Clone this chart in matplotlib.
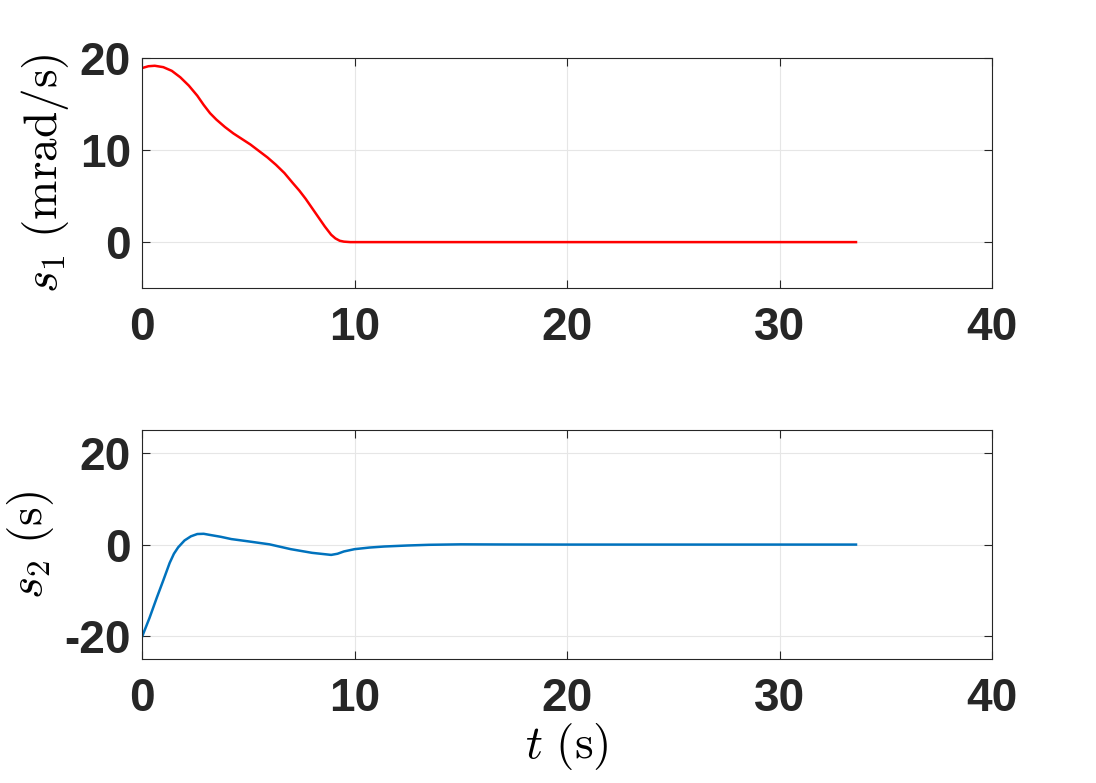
import matplotlib
matplotlib.use("Agg")
import matplotlib.pyplot as plt

# ---------------------------------------------------------------------------
# Data
# ---------------------------------------------------------------------------

t1 = [0.0, 0.3, 0.6, 1.0, 1.4, 1.8, 2.2, 2.6, 2.9, 3.2, 3.5, 3.9, 4.3, 4.7,
      5.1, 5.5, 5.9, 6.3, 6.7, 7.1, 7.4, 7.7, 8.0, 8.3, 8.6, 8.9, 9.1, 9.3,
      9.5, 9.8, 33.6]
s1 = [18.9, 19.1, 19.15, 19.0, 18.6, 17.9, 17.0, 15.9, 14.9, 14.0, 13.3, 12.5,
      11.8, 11.2, 10.6, 9.9, 9.2, 8.4, 7.5, 6.4, 5.6, 4.7, 3.7, 2.7, 1.7, 0.8,
      0.4, 0.15, 0.05, 0.0, 0.0]

t2 = [0.0, 0.35, 0.7, 1.0, 1.3, 1.5, 1.7, 2.0, 2.3, 2.6, 2.9, 3.2, 3.7, 4.2,
      5.0, 6.0, 7.0, 8.0, 8.9, 9.2, 9.5, 10.0, 10.7, 11.4, 12.5, 13.5, 15.0,
      17.0, 20.0, 33.6]
s2 = [-20.1, -16.0, -11.5, -7.8, -4.0, -2.0, -0.6, 0.9, 1.8, 2.3, 2.35, 2.1,
      1.7, 1.2, 0.7, 0.05, -1.0, -1.8, -2.25, -2.0, -1.5, -1.0, -0.65, -0.42,
      -0.2, -0.05, 0.05, 0.02, 0.0, 0.0]

X_TICKS = [0, 10, 20, 30, 40]
Y1_TICKS = [0, 10, 20]
Y2_TICKS = [-20, 0, 20]

# ---------------------------------------------------------------------------
# Plot
# ---------------------------------------------------------------------------

plt.rcParams["mathtext.fontset"] = "cm"
TICK_FONT = {"family": "Liberation Sans", "weight": "bold", "size": 33}
DARK = "#262626"

fig = plt.figure(figsize=(10.96, 7.83), dpi=100)
ax1 = fig.add_axes([0.1296, 0.632, 0.7755, 0.294])
ax2 = fig.add_axes([0.1296, 0.158, 0.7755, 0.293])

ax1.plot(t1, s1, color="#ff0000", lw=1.8)
ax2.plot(t2, s2, color="#0072bd", lw=1.8)

for ax, yticks, ylim in ((ax1, Y1_TICKS, (-5, 20)), (ax2, Y2_TICKS, (-25, 25))):
    ax.set_xlim(0, 40)
    ax.set_ylim(*ylim)
    ax.set_xticks(X_TICKS)
    ax.set_yticks(yticks)
    ax.set_xticklabels([str(v) for v in X_TICKS], fontdict=TICK_FONT, color=DARK)
    ax.set_yticklabels([str(v) for v in yticks], fontdict=TICK_FONT, color=DARK)
    ax.tick_params(axis="both", direction="in", length=6, width=0.8, color=DARK,
                   top=True, right=True)
    ax.tick_params(axis="x", pad=13)
    ax.tick_params(axis="y", pad=8)
    ax.grid(True, color="#e6e6e6", lw=0.8)
    ax.set_axisbelow(True)
    for sp in ax.spines.values():
        sp.set_color(DARK)
        sp.set_linewidth(0.8)

ax1.set_ylabel(r"$s_1\ (\mathrm{mrad/s})$", fontsize=34, labelpad=6)
ax2.set_ylabel(r"$s_2\ (\mathrm{s})$", fontsize=34, labelpad=6)
ax2.set_xlabel(r"$t\ (\mathrm{s})$", fontsize=34, labelpad=0)

fig.savefig("out.png", dpi=100)
